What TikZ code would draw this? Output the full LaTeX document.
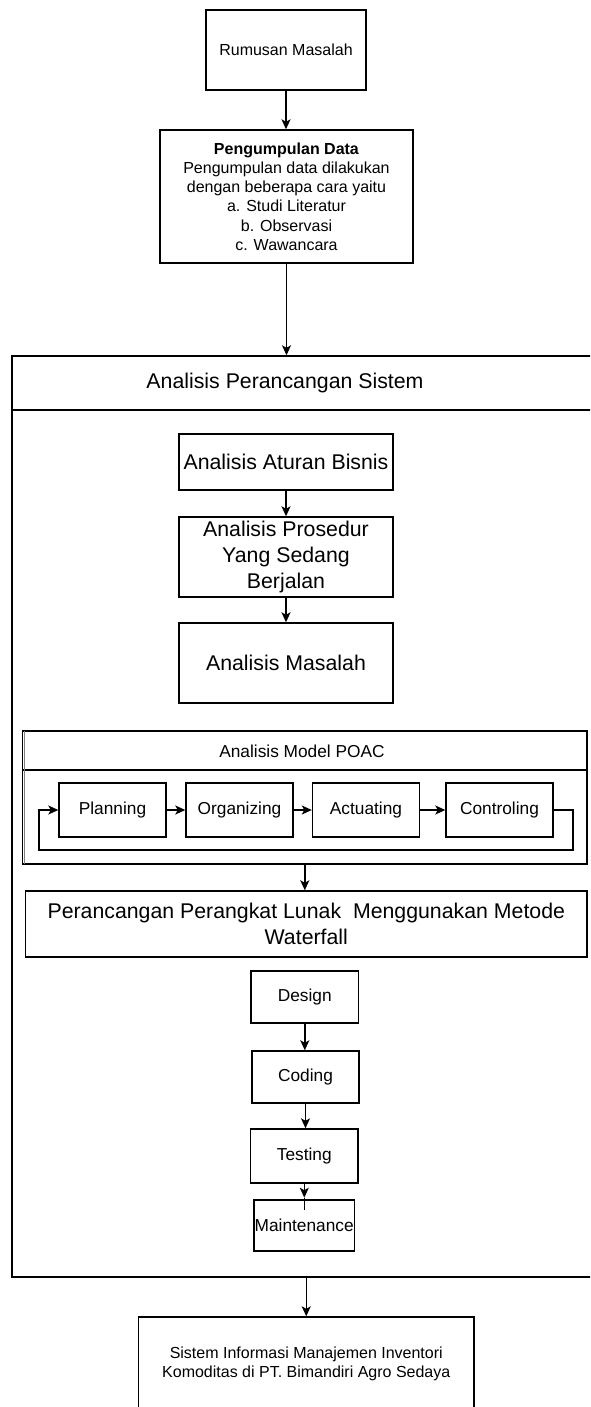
\documentclass[tikz,border=0pt]{standalone}
\usepackage{fontspec}
\setmainfont{Liberation Sans}
\usetikzlibrary{arrows.meta}
\begin{document}
\begin{tikzpicture}[x=1pt,y=-1pt,
  box/.style={draw=black, line width=1.4pt, inner sep=0pt, align=center},
  fs/.style={font=\fontsize{16}{19.2}\selectfont},
  fm/.style={font=\fontsize{17.3}{20.8}\selectfont},
  fl/.style={font=\fontsize{21.3}{25.6}\selectfont},
  arr/.style={draw=black, line width=1.4pt, -{Stealth[length=10pt,width=9pt,inset=2.5pt]}},
  ln/.style={draw=black, line width=1.4pt}]
\useasboundingbox (0,0) rectangle (590,1407);
\clip (0,0) rectangle (590,1407);

% top
\node[box,fs,minimum width=160pt,minimum height=80pt] (rum) at (286,50) {Rumusan Masalah};
\node[box,fs,minimum width=253pt,minimum height=133pt] (peng) at (286.5,196.5)
  {\textbf{Pengumpulan Data}\\Pengumpulan data dilakukan\\dengan beberapa cara yaitu\\a. Studi Literatur\\b. Observasi\\c. Wawancara};
\draw[arr] (rum.south) -- (rum.south |- peng.north);

% main container
\node[box,minimum width=608pt,minimum height=921pt] (sys) at (316,816.5) {};
\coordinate (sysL) at (12,410);
\coordinate (sysR) at (620,410);
\draw[ln] (sysL) -- (sysR);
\node[fl,inner sep=0pt] (syshead) at (285,383) {Analisis Perancangan Sistem};
\draw[arr] (peng.south) -- (peng.south |- sys.north);

% analysis steps
\node[box,fl,minimum width=214pt,minimum height=56pt] (atur) at (286,462) {Analisis Aturan Bisnis};
\node[box,fl,minimum width=214pt,minimum height=80pt] (pros) at (286,557) {Analisis Prosedur\\Yang Sedang\\Berjalan};
\node[box,fl,minimum width=214pt,minimum height=80pt] (mas) at (286,663) {Analisis Masalah};
\draw[arr] (atur.south) -- (pros.north);
\draw[arr] (pros.south) -- (mas.north);

% POAC
\node[box,minimum width=564.4pt,minimum height=133pt] (poac) at (304.8,797.5) {};
\coordinate (poacL) at (22.6,770);
\coordinate (poacR) at (587,770);
\draw[ln] (poacL) -- (poacR);
\coordinate (poacL1) at (24.8,731);
\coordinate (poacL2) at (24.8,864);
\draw[gray, line width=1pt] (poacL1) -- (poacL2);
\node[fm,inner sep=0pt] (poachead) at (302,751) {Analisis Model POAC};
\node[box,fm,minimum width=107pt,minimum height=54pt] (plan) at (112.5,810) {Planning};
\node[box,fm,minimum width=107pt,minimum height=54pt] (org) at (239.5,810) {Organizing};
\node[box,fm,minimum width=107pt,minimum height=54pt] (act) at (366,810) {Actuating};
\node[box,fm,minimum width=107pt,minimum height=54pt] (ctl) at (499.5,810) {Controling};
\draw[arr] (plan.east) -- (org.west);
\draw[arr] (org.east) -- (act.west);
\draw[arr] (act.east) -- (ctl.west);
\coordinate (lr) at (573,850);
\coordinate (ll) at (39,850);
\draw[arr] (ctl.east) -| (lr) -- (ll) |- (plan.west);

% waterfall
\node[box,fl,minimum width=561.4pt,minimum height=66pt] (per) at (306.3,924)
  {Perancangan Perangkat Lunak\ \ Menggunakan Metode\\Waterfall};
\draw[arr] (poac.south) -- (poac.south |- per.north);
\node[box,fm,minimum width=107.5pt,minimum height=52pt] (des) at (304.8,997) {Design};
\node[box,fm,minimum width=107pt,minimum height=52pt] (cod) at (305.5,1077) {Coding};
\node[box,fm,minimum width=107.4pt,minimum height=54pt] (tes) at (304.3,1156) {Testing};
\node[box,fm,minimum width=100.4pt,minimum height=51pt] (mnt) at (304.2,1225.5) {Maintenance};
\draw[arr] (des.south) -- (des.south |- cod.north);
\draw[arr] (cod.south) -- (cod.south |- tes.north);
\path (tes.south) ++(0,14) coordinate (mtip) ++(0,12) coordinate (mend);
\draw[arr] (tes.south) -- (mtip);
\draw[ln] (mtip) -- (mend);

% final
\node[box,fs,minimum width=335.5pt,minimum height=93pt] (fin) at (306.25,1363.5)
  {Sistem Informasi Manajemen Inventori\\Komoditas di PT. Bimandiri Agro Sedaya};
\draw[arr] (fin.north |- sys.south) -- (fin.north);
\end{tikzpicture}
\end{document}
